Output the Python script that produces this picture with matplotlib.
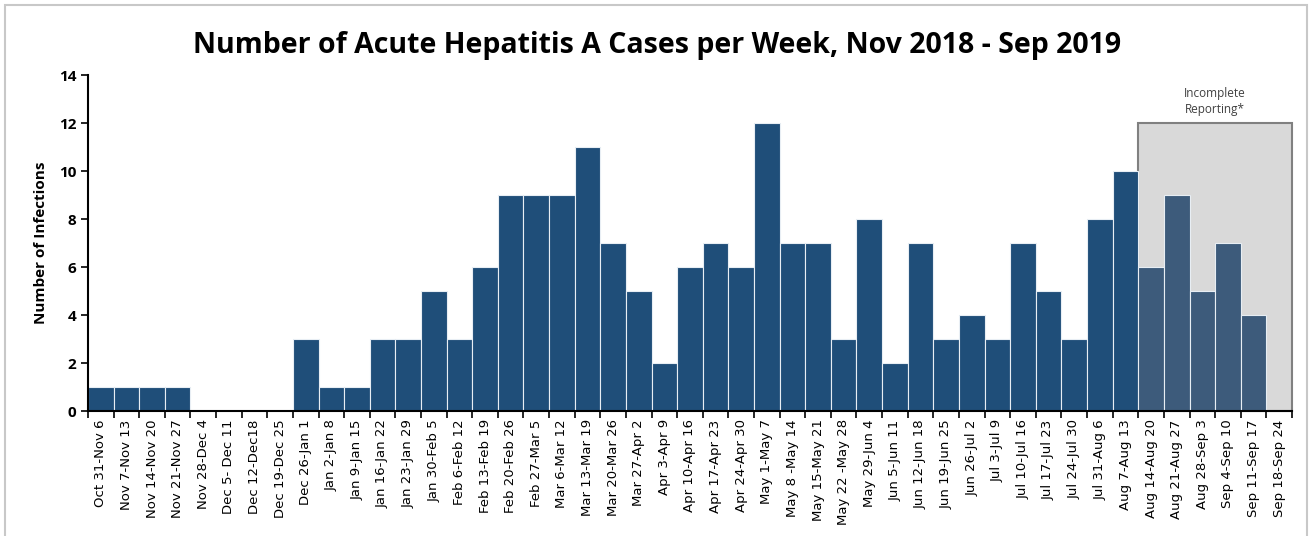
import matplotlib.pyplot as plt
from matplotlib.patches import Rectangle
import numpy as np

weeks = [
    "Oct 31-Nov 6", "Nov 7-Nov 13", "Nov 14-Nov 20", "Nov 21-Nov 27",
    "Nov 28-Dec 4", "Dec 5- Dec 11", "Dec 12-Dec18", "Dec 19-Dec 25",
    "Dec 26-Jan 1", "Jan 2-Jan 8", "Jan 9-Jan 15", "Jan 16-Jan 22",
    "Jan 23-Jan 29", "Jan 30-Feb 5", "Feb 6-Feb 12", "Feb 13-Feb 19",
    "Feb 20-Feb 26", "Feb 27-Mar 5", "Mar 6-Mar 12", "Mar 13-Mar 19",
    "Mar 20-Mar 26", "Mar 27-Apr 2", "Apr 3-Apr 9", "Apr 10-Apr 16",
    "Apr 17-Apr 23", "Apr 24-Apr 30", "May 1-May 7", "May 8 -May 14",
    "May 15-May 21", "May 22 -May 28", "May 29-Jun 4", "Jun 5-Jun 11",
    "Jun 12-Jun 18", "Jun 19-Jun 25", "Jun 26-Jul 2", "Jul 3-Jul 9",
    "Jul 10-Jul 16", "Jul 17-Jul 23", "Jul 24-Jul 30", "Jul 31-Aug 6",
    "Aug 7-Aug 13", "Aug 14-Aug 20", "Aug 21-Aug 27", "Aug 28-Sep 3",
    "Sep 4-Sep 10", "Sep 11-Sep 17", "Sep 18-Sep 24",
]
cases = [1, 1, 1, 1, 0, 0, 0, 0, 3, 1, 1, 3, 3, 5, 3, 6, 9, 9, 9, 11,
         7, 5, 2, 6, 7, 6, 12, 7, 7, 3, 8, 2, 7, 3, 4, 3, 7, 5, 3, 8,
         10, 6, 9, 5, 7, 4, 0]
incomplete_start = "Aug 14-Aug 20"
incomplete_top = 12

x = np.arange(len(weeks))
first_inc = weeks.index(incomplete_start)
colors = ['#1F4E79' if i < first_inc else '#3D5B7B' for i in x]

fig = plt.figure(figsize=(13.15, 5.36), dpi=100)
ax = fig.add_axes([0.0669, 0.2332, 0.9156, 0.6268])

ax.add_patch(Rectangle((first_inc - 0.5, 0), len(weeks) - first_inc, incomplete_top,
                       facecolor='#D9D9D9', edgecolor='#808080', linewidth=1.5,
                       zorder=1, clip_on=False))
ax.bar(x, cases, width=1.0, color=colors, edgecolor='#E8EEF4', linewidth=0.8, zorder=2)

ax.text(first_inc - 0.5 + (len(weeks) - first_inc) / 2, 12.9, "Incomplete\nReporting*",
        ha='center', va='center', fontsize=8.5, color='#404040', family='Open Sans',
        linespacing=1.3)

ax.set_xlim(-0.5, len(weeks) - 0.5)
ax.set_ylim(0, 14)
ax.set_yticks(range(0, 15, 2))
ax.set_yticklabels([str(v) for v in range(0, 15, 2)], fontweight='bold', fontsize=11, family='Open Sans')

ax.set_xticks(np.arange(len(weeks) + 1) - 0.5)
ax.set_xticklabels([])
ax.set_xticks(x, minor=True)
ax.set_xticklabels(weeks, minor=True, rotation=90, fontsize=9.5, family='DejaVu Sans')
ax.tick_params(axis='x', which='major', direction='out', length=5, width=1.2)
ax.tick_params(axis='x', which='minor', length=0, pad=6)
ax.tick_params(axis='y', direction='out', length=5, width=1.2)

ax.set_ylabel("Number of Infections", fontweight='bold', fontsize=11, family='Open Sans', labelpad=8)
for s in ['top', 'right']:
    ax.spines[s].set_visible(False)
for s in ['left', 'bottom']:
    ax.spines[s].set_linewidth(1.5)
    ax.spines[s].set_zorder(3)

fig.text(0.5, 0.915, "Number of Acute Hepatitis A Cases per Week, Nov 2018 - Sep 2019",
         ha='center', va='center', fontsize=20.5, fontweight='bold', family='Open Sans')

fig.patches.append(Rectangle((0.004, -0.01), 0.99, 1.0, transform=fig.transFigure,
                             fill=False, edgecolor='#C8C8C8', linewidth=1.5))

fig.savefig('out.png', dpi=100)
